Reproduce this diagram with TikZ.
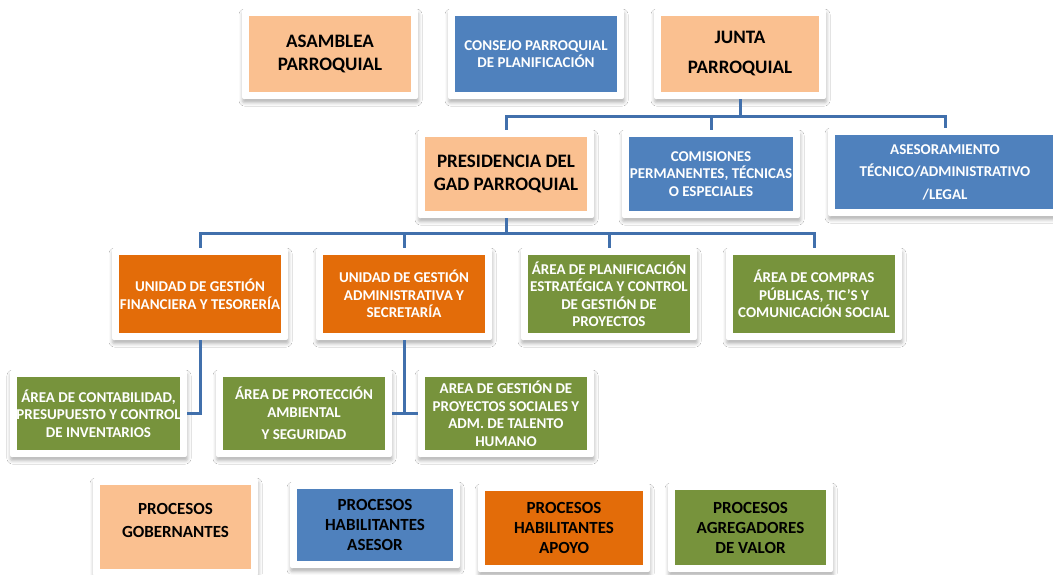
\documentclass[tikz,border=0pt]{standalone}
\usepackage{fontspec}
\setmainfont{Carlito}
\usetikzlibrary{shadows.blur}
\definecolor{peach}{HTML}{FAC090}
\definecolor{steel}{HTML}{4F81BD}
\definecolor{rust}{HTML}{E36C09}
\definecolor{olive}{HTML}{77933C}
\definecolor{wire}{HTML}{4170AC}
\tikzset{
  orgbox/.style={fill=white, rounded corners=2pt, inner sep=0pt, align=center,
    blur shadow={shadow xshift=0.5pt, shadow yshift=-3.5pt, shadow blur radius=3.5pt, shadow opacity=30},
    path picture={\fill[#1, sharp corners] ([shift={(7pt,7pt)}]path picture bounding box.south west)
      rectangle ([shift={(-7pt,-7pt)}]path picture bounding box.north east);}},
  boxsize/.style 2 args={minimum width=#1pt, minimum height=#2pt},
  bigtext/.style={font=\fontsize{19}{23}\selectfont\bfseries},
  smalltext/.style={font=\fontsize{15}{17.5}\selectfont\bfseries, text=white},
  legtext/.style={font=\fontsize{17}{20}\selectfont\bfseries},
  link/.style={draw=wire, line width=3pt}
}
\begin{document}
\begin{tikzpicture}[x=1pt, y=-1pt]
  \fill[white] (0,0) rectangle (1053,574);
  \useasboundingbox (0,0) rectangle (1053,574);
  \coordinate (busA) at (0,116);
  \coordinate (busB) at (0,233);
  % nivel directivo
  \node[orgbox=peach, boxsize={176}{90}, bigtext] (asamblea) at (330,54) {ASAMBLEA\\PARROQUIAL};
  \node[orgbox=steel, boxsize={176}{90}, smalltext] (consejo) at (536,54) {CONSEJO PARROQUIAL\\DE PLANIFICACIÓN};
  \node[orgbox=peach, boxsize={172}{90}, bigtext] (junta) at (740,54) {JUNTA\\[7pt]PARROQUIAL};
  \node[orgbox=peach, boxsize={176}{88}, bigtext] (presidencia) at (506,174) {PRESIDENCIA DEL\\GAD PARROQUIAL};
  \node[orgbox=steel, boxsize={178}{88}, smalltext] (comisiones) at (711,174) {COMISIONES\\PERMANENTES, TÉCNICAS\\O ESPECIALES};
  \node[orgbox=steel, boxsize={234}{88}, smalltext] (asesor) at (945,172) {ASESORAMIENTO\\[5pt]TÉCNICO/ADMINISTRATIVO\\[5pt]/LEGAL};
  % unidades y areas
  \node[orgbox=rust, boxsize={176}{92}, smalltext] (unidadfin) at (200,294) {UNIDAD DE GESTIÓN\\FINANCIERA Y TESORERÍA};
  \node[orgbox=rust, boxsize={176}{92}, smalltext] (unidadadm) at (404,294) {UNIDAD DE GESTIÓN\\ADMINISTRATIVA Y\\SECRETARÍA};
  \node[orgbox=olive, boxsize={176}{92}, smalltext] (areaplan) at (609,294) {ÁREA DE PLANIFICACIÓN\\ESTRATÉGICA Y CONTROL\\DE GESTIÓN DE\\PROYECTOS};
  \node[orgbox=olive, boxsize={176}{92}, smalltext] (areacompras) at (814,294) {ÁREA DE COMPRAS\\PÚBLICAS, TIC’S Y\\COMUNICACIÓN SOCIAL};
  \node[orgbox=olive, boxsize={177}{87}, smalltext] (contab) at (98.5,413.5) {ÁREA DE CONTABILIDAD,\\PRESUPUESTO Y CONTROL\\DE INVENTARIOS};
  \node[orgbox=olive, boxsize={176}{87}, smalltext] (proteccion) at (304,413.5) {ÁREA DE PROTECCIÓN\\AMBIENTAL\\[5pt]Y SEGURIDAD};
  \node[orgbox=olive, boxsize={176}{87}, smalltext] (gestion) at (506,413.5) {AREA DE GESTIÓN DE\\PROYECTOS SOCIALES Y\\ADM. DE TALENTO\\HUMANO};
  % leyenda
  \node[orgbox=peach, boxsize={165}{98}, legtext] (gobern) at (175.5,527) {PROCESOS\\[3pt]GOBERNANTES\\[-6pt]};
  \node[orgbox=steel, boxsize={170}{86}, legtext] (habasesor) at (375,525) {PROCESOS\\HABILITANTES\\ASESOR};
  \node[orgbox=rust, boxsize={172}{88}, legtext] (habapoyo) at (564,528) {PROCESOS\\HABILITANTES\\APOYO};
  \node[orgbox=olive, boxsize={165}{89}, legtext] (agregador) at (750.5,527.5) {PROCESOS\\AGREGADORES\\DE VALOR};
  % conectores
  \draw[link] (presidencia.north) -- (presidencia.north |- busA) -| (asesor.north);
  \foreach \n in {junta.south, comisiones.north} \draw[link] (\n) -- (\n |- busA);
  \draw[link] (unidadfin.north) -- (unidadfin.north |- busB) -| (areacompras.north);
  \foreach \n in {presidencia.south, unidadadm.north, areaplan.north} \draw[link] (\n) -- (\n |- busB);
  \draw[link] (unidadfin.south) |- (contab.east);
  \draw[link] (unidadadm.south) -- (unidadadm.south |- gestion.west);
  \draw[link] (proteccion.east) -- (gestion.west);
\end{tikzpicture}
\end{document}
